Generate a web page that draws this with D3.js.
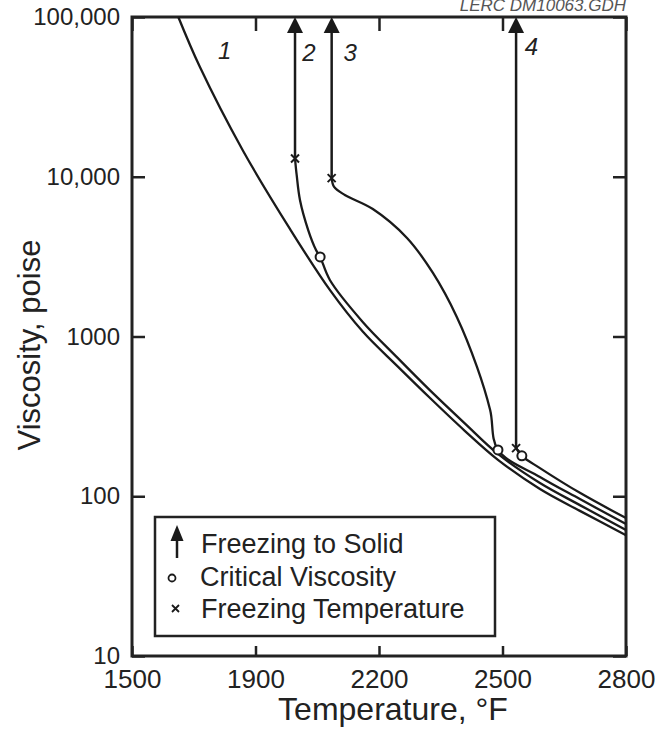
<!DOCTYPE html>
<html>
<head>
<meta charset="utf-8">
<script src="https://cdn.jsdelivr.net/npm/d3@7"></script>
<style>
body { margin: 0; background: #fff; }
svg { display: block; font-family: "Liberation Sans", Arial, Helvetica, sans-serif; }
</style>
</head>
<body>
<div id="chart"></div>
<script>
//Tick values and labels
var tempTicks = [1500, 1900, 2200, 2500, 2800];
var viscTicks = [10, 100, 1000, 10000, 100000];
var viscTickLabels = ["10", "100", "1000", "10,000", "100,000"];

//Viscosity curves, [temperature F, viscosity poise]
var curve1 = [[1650,100000],[1720,48600],[1860,14500],[1984,4700],[2081,1950],[2161,1070],[2244,655],[2324,412],[2409,256],[2489,169],[2591,111],[2688,81],[2800,57]];
var curve2 = [[1996,13000],[2000,10260],[2008,7150],[2028,4640],[2047,3480],[2057,3150],[2081,2250],[2161,1230],[2244,740],[2324,460],[2409,285],[2489,184],[2591,121],[2688,88],[2800,61.5]];
var curve3 = [[2085,9800],[2091,8630],[2117,7690],[2185,6280],[2268,4140],[2331,2498],[2389,1325],[2438,645],[2470,347],[2489,195],[2591,132],[2688,96],[2800,67]];
var curve4 = [[2533,200],[2547,179],[2591,150],[2688,105],[2800,73]];

//Markers
var freezePts = [[1996,13000],[2085,9800],[2533,200]];
var criticalPts = [[2057,3150],[2489,195],[2547,179]];

//Curve numbers and where they sit
var curveNames = ["1", "2", "3", "4"];
var curveNamePos = [[1800,62000],[2030,60000],[2130,60000],[2570,65000]];

var legendItems = ["Freezing to Solid", "Critical Viscosity", "Freezing Temperature"];

//Set margins and sizes
var margin = {top: 17, right: 30, bottom: 74, left: 132};
var width = 656 - margin.left - margin.right;
var height = 730 - margin.top - margin.bottom;

var svgRoot = d3.select("#chart").append("svg")
  .attr("width", 656)
  .attr("height", 730);

var svg = svgRoot.append("g")
  .attr("transform", "translate(" + margin.left + "," + margin.top + ")");

//1500 -> 1900 gets the same room as the 300 degree steps
var x = d3.scaleLinear()
  .domain([1500, 1900, 2800])
  .range([0, width / 4, width]);
var y = d3.scaleLog()
  .domain([10, 100000])
  .range([height, 0]);

//Axes, ticks pointing inward
var axL = svg.append("g")
  .call(d3.axisLeft(y).tickValues(viscTicks)
    .tickFormat(function(d, i) { return viscTickLabels[i]; })
    .tickSizeInner(-13).tickSizeOuter(0).tickPadding(12));
var axR = svg.append("g")
  .attr("transform", "translate(" + width + ",0)")
  .call(d3.axisRight(y).tickValues(viscTicks).tickFormat("")
    .tickSizeInner(-13).tickSizeOuter(0));
var axB = svg.append("g")
  .attr("transform", "translate(0," + height + ")")
  .call(d3.axisBottom(x).tickValues(tempTicks).tickFormat(d3.format("d"))
    .tickSizeInner(-10).tickSizeOuter(0).tickPadding(14));
var axT = svg.append("g")
  .call(d3.axisTop(x).tickValues(tempTicks).tickFormat("")
    .tickSizeInner(-14).tickSizeOuter(0));

[axL, axR, axB, axT].forEach(function(a) {
  a.select(".domain").remove();
  a.selectAll(".tick line").attr("stroke", "#222").attr("stroke-width", 2.5);
});
axL.selectAll("text").attr("font-size", 24).attr("fill", "#222")
  .attr("font-family", "Liberation Sans, Arial, sans-serif");
axB.selectAll("text").attr("font-size", 26).attr("fill", "#222")
  .attr("font-family", "Liberation Sans, Arial, sans-serif");

//Frame
svg.append("rect")
  .attr("width", width).attr("height", height)
  .attr("fill", "none").attr("stroke", "#222").attr("stroke-width", 3);

//Curves
var line = d3.line()
  .x(function(d) { return x(d[0]); })
  .y(function(d) { return y(d[1]); })
  .curve(d3.curveCatmullRom.alpha(0.5));

svg.append("g").selectAll("path")
  .data([curve1, curve2, curve3, curve4])
  .enter()
  .append("path")
  .attr("d", line)
  .attr("fill", "none")
  .attr("stroke", "#1a1a1a")
  .attr("stroke-width", 2.3);

//Freezing to solid arrows
var arrows = svg.append("g").selectAll("g")
  .data(freezePts)
  .enter()
  .append("g");
arrows.append("line")
  .attr("x1", function(d) { return x(d[0]); })
  .attr("x2", function(d) { return x(d[0]); })
  .attr("y1", function(d) { return y(d[1]); })
  .attr("y2", y(100000) + 12)
  .attr("stroke", "#1a1a1a")
  .attr("stroke-width", 2.5);
arrows.append("path")
  .attr("d", function(d) {
    var cx = x(d[0]), ty = y(100000);
    return "M" + cx + "," + ty + "L" + (cx - 8) + "," + (ty + 16) + "L" + (cx + 8) + "," + (ty + 16) + "Z";
  })
  .attr("fill", "#1a1a1a");

//Critical viscosity circles
svg.append("g").selectAll("circle")
  .data(criticalPts)
  .enter()
  .append("circle")
  .attr("cx", function(d) { return x(d[0]); })
  .attr("cy", function(d) { return y(d[1]); })
  .attr("r", 4.5)
  .attr("fill", "#fff")
  .attr("stroke", "#1a1a1a")
  .attr("stroke-width", 2);

//Freezing temperature crosses
svg.append("g").selectAll("path")
  .data(freezePts)
  .enter()
  .append("path")
  .attr("d", function(d) {
    var cx = x(d[0]), cy = y(d[1]), s = 4;
    return "M" + (cx - s) + "," + (cy - s) + "L" + (cx + s) + "," + (cy + s) +
           "M" + (cx - s) + "," + (cy + s) + "L" + (cx + s) + "," + (cy - s);
  })
  .attr("stroke", "#1a1a1a")
  .attr("stroke-width", 2);

//Curve numbers
svg.append("g").selectAll("text")
  .data(curveNames)
  .enter()
  .append("text")
  .attr("x", function(d, i) { return x(curveNamePos[i][0]); })
  .attr("y", function(d, i) { return y(curveNamePos[i][1]); })
  .attr("dy", "0.35em")
  .attr("text-anchor", "middle")
  .attr("font-size", 24)
  .attr("font-style", "italic")
  .attr("fill", "#222")
  .text(function(d) { return d; });

//Axis titles
svgRoot.append("text")
  .attr("x", 393)
  .attr("y", 720)
  .attr("text-anchor", "middle")
  .attr("font-size", 32)
  .attr("fill", "#222")
  .text("Temperature, \u00B0F");
svgRoot.append("text")
  .attr("transform", "translate(40,345) rotate(-90)")
  .attr("text-anchor", "middle")
  .attr("font-size", 31)
  .attr("fill", "#222")
  .text("Viscosity, poise");

//Drawing id at the top
svgRoot.append("text")
  .attr("x", 626)
  .attr("y", 11)
  .attr("text-anchor", "end")
  .attr("font-size", 17)
  .attr("font-style", "italic")
  .attr("fill", "#555")
  .text("LERC DM10063.GDH");

//Legend
var legend = svgRoot.append("g")
  .attr("transform", "translate(155,517)");
legend.append("rect")
  .attr("width", 340).attr("height", 119)
  .attr("fill", "#fff").attr("stroke", "#222").attr("stroke-width", 2.5);
legend.append("line")
  .attr("x1", 22).attr("x2", 22).attr("y1", 20).attr("y2", 41)
  .attr("stroke", "#1a1a1a").attr("stroke-width", 2.5);
legend.append("path")
  .attr("d", "M22,8L15.5,24L28.5,24Z")
  .attr("fill", "#1a1a1a");
legend.append("circle")
  .attr("cx", 17).attr("cy", 61).attr("r", 3.5)
  .attr("fill", "#fff").attr("stroke", "#1a1a1a").attr("stroke-width", 1.8);
legend.append("path")
  .attr("d", "M17,88L24,95M17,95L24,88")
  .attr("stroke", "#1a1a1a").attr("stroke-width", 1.8);
legend.selectAll(".ltext")
  .data(legendItems)
  .enter()
  .append("text")
  .attr("class", "ltext")
  .attr("x", function(d, i) { return i == 1 ? 45 : 46; })
  .attr("y", function(d, i) { return 36 + i * 32.5; })
  .attr("font-size", 27)
  .attr("fill", "#222")
  .text(function(d) { return d; });
</script>
</body>
</html>
